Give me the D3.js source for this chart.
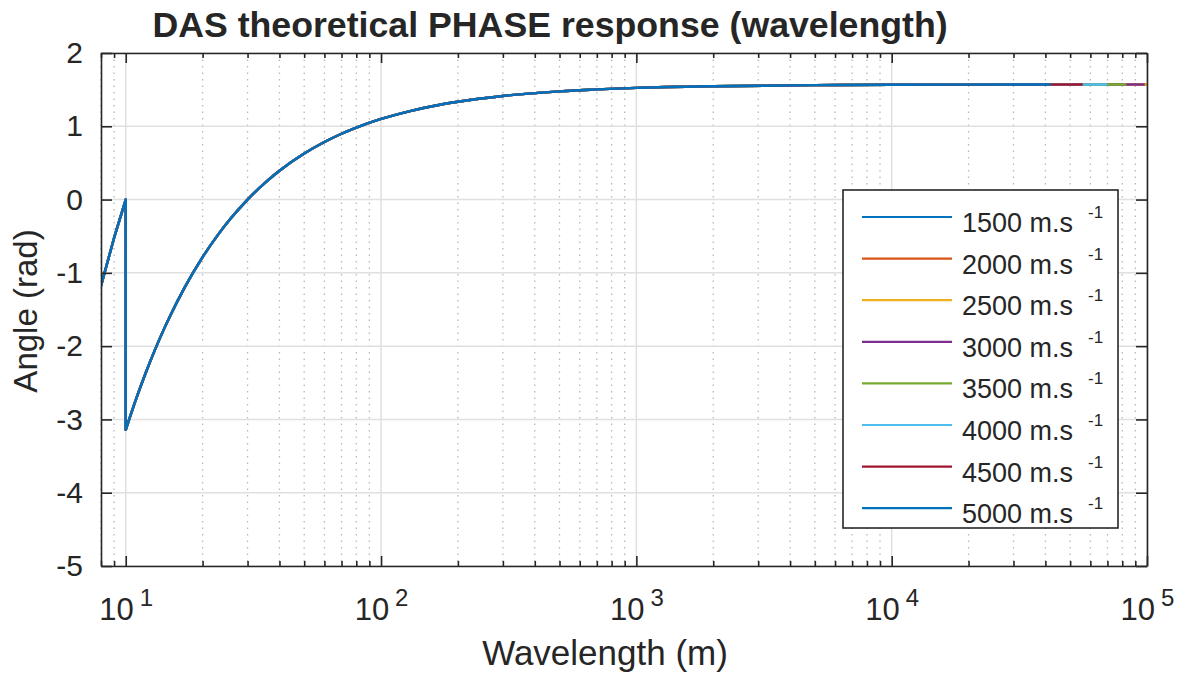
<!DOCTYPE html>
<html>
<head>
<meta charset="utf-8">
<script src="https://cdn.jsdelivr.net/npm/d3@7"></script>
<style>
  body { margin: 0; background: #fff; }
  text { font-family: "Liberation Sans", Arial, Helvetica, sans-serif; fill: #262626; }
</style>
</head>
<body>
<svg width="1186" height="675"></svg>
<script>
// values
var wavelength = [8, 9, 10, 10, 11, 12, 13, 14, 15, 17, 20, 23, 26, 30, 35, 40, 50, 60, 70, 80,
    100, 130, 170, 200, 300, 500, 700, 1000, 2000, 5000, 10000, 100000];
var angle = [-1.178, -0.524, 0, -3.142, -2.713, -2.356, -2.054, -1.795, -1.571, -1.201, -0.785,
    -0.478, -0.242, 0, 0.224, 0.393, 0.628, 0.785, 0.898, 0.982,
    1.100, 1.208, 1.294, 1.335, 1.414, 1.477, 1.503, 1.524, 1.547, 1.561, 1.566, 1.570];
var velocities = [1500, 2000, 2500, 3000, 3500, 4000, 4500, 5000];
var seriesEnd = [100000, 100000, 100000, 98000, 83000, 70000, 56000, 42000];
var endAngle = 1.570;
var xMajor = [10, 100, 1000, 10000, 100000];
var xExponent = ["1", "2", "3", "4", "5"];
var yTicks = [-5, -4, -3, -2, -1, 0, 1, 2];

var colors = ["#0072BD", "#D95319", "#EDB120", "#7E2F8E", "#77AC30", "#4DBEEE", "#A2142F", "#0072BD"];

d3.select(window).on("load", init);

function init() {
    var svg = d3.select("svg"),
        x0 = 101, x1 = 1147, y0 = 53, y1 = 566;

    var x = d3.scaleLog().domain([8, 100000]).range([x0, x1]);
    var y = d3.scaleLinear().domain([-5, 2]).range([y1, y0]);

    // minor ticks 2..9 per decade
    var xMinor = [];
    [1, 10, 100, 1000, 10000].forEach(function(d) {
        for (var k = 2; k <= 9; k++) {
            var v = d * k;
            if (v >= 8 && v <= 100000) xMinor.push(v);
        }
    });

    // grid
    var grid = svg.append("g");
    grid.selectAll(".minor").data(xMinor).enter().append("line")
        .attr("x1", x).attr("x2", x).attr("y1", y0).attr("y2", y1)
        .attr("stroke", "#b8b8b8").attr("stroke-width", 1.3).attr("stroke-dasharray", "1.5,5");
    grid.selectAll(".xmaj").data(xMajor).enter().append("line")
        .attr("x1", x).attr("x2", x).attr("y1", y0).attr("y2", y1)
        .attr("stroke", "#e0e0e0").attr("stroke-width", 1.5);
    grid.selectAll(".ymaj").data(yTicks).enter().append("line")
        .attr("x1", x0).attr("x2", x1).attr("y1", y).attr("y2", y)
        .attr("stroke", "#e0e0e0").attr("stroke-width", 1.5);

    // curves
    svg.append("clipPath").attr("id", "clip").append("rect")
        .attr("x", x0).attr("y", y0).attr("width", x1 - x0).attr("height", y1 - y0);

    var pts = wavelength.map(function(d, i) { return [d, angle[i]]; });

    var lineLin = d3.line().x(function(d) { return x(d[0]); }).y(function(d) { return y(d[1]); });
    var lineSmooth = d3.line().x(function(d) { return x(d[0]); }).y(function(d) { return y(d[1]); })
        .curve(d3.curveMonotoneX);

    function seriesPath(end) {
        var p = pts.filter(function(d) { return d[0] < end; });
        p.push([end, endAngle]);
        var jump = 0;
        for (var i = 1; i < p.length; i++) if (p[i][0] === p[i - 1][0]) { jump = i; break; }
        var a = lineLin(p.slice(0, jump));
        var b = lineSmooth(p.slice(jump));
        return a + b.replace(/^M/, "L");
    }

    svg.append("g").attr("clip-path", "url(#clip)")
        .selectAll("path").data(velocities).enter().append("path")
        .attr("d", function(d, i) { return seriesPath(seriesEnd[i]); })
        .attr("fill", "none")
        .attr("stroke", function(d, i) { return colors[i]; })
        .attr("stroke-width", 2.4)
        .attr("stroke-linejoin", "round");

    // axes
    function style(g) {
        g.selectAll("path, line").attr("stroke", "#262626").attr("stroke-width", 1.6);
        g.selectAll("text").style("font-size", "30px").attr("fill", "#262626")
            .style("font-family", '"Liberation Sans", Arial, Helvetica, sans-serif');
    }

    svg.append("g").attr("transform", "translate(0," + y1 + ")")
        .call(d3.axisBottom(x).tickValues(xMinor).tickFormat("").tickSizeInner(-5).tickSizeOuter(0))
        .call(style).select(".domain").remove();
    svg.append("g").attr("transform", "translate(0," + y0 + ")")
        .call(d3.axisTop(x).tickValues(xMinor).tickFormat("").tickSizeInner(-5).tickSizeOuter(0))
        .call(style).select(".domain").remove();

    var xb = svg.append("g").attr("transform", "translate(0," + y1 + ")")
        .call(d3.axisBottom(x).tickValues(xMajor).tickFormat("").tickSizeInner(-10).tickSizeOuter(0))
        .call(style);
    xb.selectAll(".tick text").remove();
    xb.selectAll(".tick").append("text")
        .attr("text-anchor", "middle")
        .attr("y", 54)
        .style("font-size", "31px")
        .each(function(d, i) {
            var t = d3.select(this);
            t.append("tspan").text("10");
            t.append("tspan").attr("dx", 6).attr("dy", -14).style("font-size", "24px").text(xExponent[i]);
        });

    svg.append("g").attr("transform", "translate(0," + y0 + ")")
        .call(d3.axisTop(x).tickValues(xMajor).tickFormat("").tickSizeInner(-10).tickSizeOuter(0))
        .call(style);

    svg.append("g").attr("transform", "translate(" + x0 + ",0)")
        .call(d3.axisLeft(y).tickValues(yTicks).tickFormat(function(d) { return String(d); })
            .tickSizeInner(-11).tickSizeOuter(0).tickPadding(18))
        .call(style);
    svg.append("g").attr("transform", "translate(" + x1 + ",0)")
        .call(d3.axisRight(y).tickValues(yTicks).tickFormat("").tickSizeInner(-11).tickSizeOuter(0))
        .call(style);

    // labels
    svg.append("text").attr("x", 605).attr("y", 665).attr("text-anchor", "middle")
        .style("font-size", "35px").text("Wavelength (m)");
    svg.append("text").attr("transform", "translate(37,311)rotate(-90)").attr("text-anchor", "middle")
        .style("font-size", "33px").text("Angle (rad)");
    svg.append("text").attr("x", 550).attr("y", 37).attr("text-anchor", "middle")
        .style("font-size", "35.7px").style("font-weight", "bold").attr("fill", "#000")
        .text("DAS theoretical PHASE response (wavelength)");

    // legend
    var lg = svg.append("g");
    lg.append("rect").attr("x", 843).attr("y", 190).attr("width", 275).attr("height", 338)
        .attr("fill", "#fff").attr("stroke", "#262626").attr("stroke-width", 1.6);
    var row = lg.selectAll(".row").data(velocities).enter().append("g")
        .attr("transform", function(d, i) { return "translate(0," + (217 + i * 41.6) + ")"; });
    row.append("line").attr("x1", 862).attr("x2", 952).attr("y1", 0).attr("y2", 0)
        .attr("stroke", function(d, i) { return colors[i]; }).attr("stroke-width", 2.2);
    row.append("text").attr("x", 962).attr("y", 15).style("font-size", "27px").attr("fill", "#000")
        .text(function(d) { return d + " m.s"; });
    row.append("text").attr("x", 1088).attr("y", 1).style("font-size", "17px").attr("fill", "#000")
        .text("-1");
}
</script>
</body>
</html>
